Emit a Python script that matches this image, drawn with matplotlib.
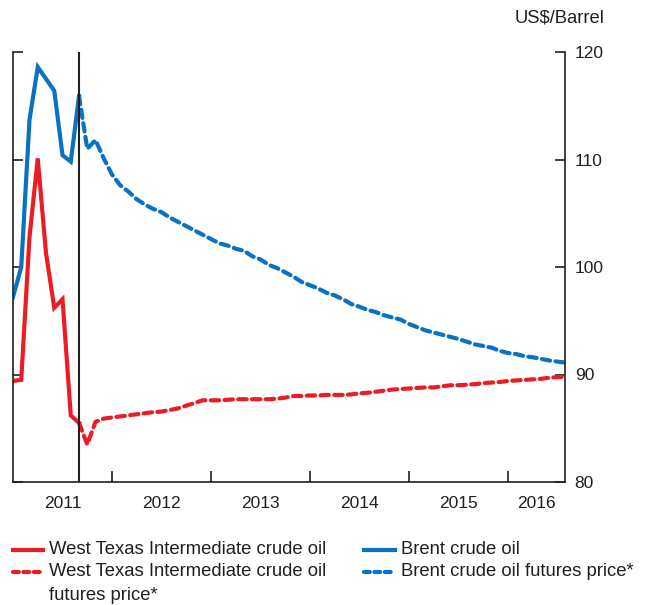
import matplotlib
matplotlib.use("Agg")
import matplotlib.pyplot as plt
import numpy as np
from matplotlib.lines import Line2D

plt.rcParams['font.family'] = ['Liberation Sans', 'DejaVu Sans']
plt.rcParams['font.size'] = 12.5

# Data (US$/barrel), monthly from Jan 2011; month index 0 = Jan 2011
years = ['2011', '2012', '2013', '2014', '2015', '2016']
wti = [89.4, 89.5, 102.8, 110.1, 101.3, 96.2, 97.0, 86.2, 85.5]
brent = [97.2, 100.0, 113.7, 118.6, 117.5, 116.4, 110.4, 109.8, 115.9]
# futures, monthly from Sep 2011 (month 8) to Aug 2016 (month 67)
wti_fut = [85.5, 83.5, 85.6, 85.9, 86.0, 86.1, 86.2, 86.3, 86.4, 86.5,
           86.55, 86.7, 86.85, 87.1, 87.35, 87.6, 87.6, 87.6, 87.65, 87.7,
           87.7, 87.7, 87.7, 87.7, 87.75, 87.85, 88.0, 88.0, 88.05, 88.05,
           88.1, 88.1, 88.1, 88.15, 88.25, 88.3, 88.4, 88.5, 88.6, 88.65,
           88.7, 88.75, 88.8, 88.8, 88.9, 89.0, 89.0, 89.05, 89.1, 89.2,
           89.25, 89.3, 89.4, 89.45, 89.5, 89.55, 89.6, 89.7, 89.75, 89.8]
brent_fut = [115.9, 111.0, 111.8, 110.1, 108.6, 107.6, 107.0, 106.3, 105.8, 105.4,
             105.1, 104.6, 104.2, 103.8, 103.4, 103.0, 102.6, 102.2, 102.0, 101.7,
             101.5, 101.0, 100.7, 100.2, 99.9, 99.5, 99.1, 98.6, 98.3, 98.0,
             97.6, 97.35, 97.0, 96.55, 96.3, 96.0, 95.8, 95.5, 95.3, 95.1,
             94.7, 94.4, 94.1, 93.9, 93.7, 93.5, 93.3, 93.05, 92.8, 92.65,
             92.5, 92.2, 92.0, 91.9, 91.7, 91.6, 91.45, 91.3, 91.2, 91.1]
fut_start = 8
x_end = 66.9

red = '#ED1C24'
blue = '#0A72C2'
ink = '#231f20'
lw = 3.0
dash = (2.0, 1.3)

fig = plt.figure(figsize=(6.47, 6.05), dpi=100)
ax = fig.add_axes([13/647, 1-482/605, (565-13)/647, (482-52)/605])

m_act = np.arange(len(wti))
m_fut = np.arange(fut_start, fut_start + len(wti_fut))

ax.plot(m_act, brent, color=blue, lw=lw, solid_joinstyle='miter')
ax.plot(m_act, wti, color=red, lw=lw, solid_joinstyle='miter')
ax.plot(m_fut, brent_fut, color=blue, lw=lw, dashes=dash, dash_capstyle='round')
ax.plot(m_fut, wti_fut, color=red, lw=lw, dashes=dash, dash_capstyle='round')
ax.axvline(fut_start, color=ink, lw=1.5)

ax.set_xlim(0, x_end)
ax.set_ylim(80, 120)

for s in ['left', 'right', 'bottom']:
    ax.spines[s].set_color(ink)
    ax.spines[s].set_linewidth(1.2)
ax.spines['top'].set_visible(False)

ax.set_yticks([80, 90, 100, 110, 120])
ax.yaxis.set_ticks_position('both')
ax.tick_params(axis='y', direction='in', length=7.5, width=1.2, color=ink,
               labelleft=False, labelright=True, pad=7, labelcolor=ink)

ax.set_xticks([12, 24, 36, 48, 60])
ax.set_xticklabels([])
ax.tick_params(axis='x', which='major', direction='in', length=8, width=1.2, color=ink)
mids = [6, 18, 30, 42, 54, (60 + x_end) / 2]
ax.set_xticks(mids, minor=True)
ax.set_xticklabels(years, minor=True)
ax.tick_params(axis='x', which='minor', length=0, pad=10, labelcolor=ink)

fig.text(605/647, 1-18/605, 'US$/Barrel', ha='right', va='center', color=ink, fontsize=13.3)

# legend drawn by hand
def leg_item(x0, x1, y, ls, color, label):
    yf = 1 - y/605
    kw = dict(dashes=(1.4, 1.1), dash_capstyle='round') if ls == 'dash' else {}
    fig.add_artist(Line2D([x0/647, x1/647], [yf, yf], color=color, lw=lw,
                          transform=fig.transFigure, **kw))
    fig.text((x1+6)/647, yf, label, ha='left', va='center', color=ink, fontsize=13.3)

leg_item(13, 43, 550, 'solid', red, 'West Texas Intermediate crude oil')
leg_item(13, 43, 572, 'dash', red, 'West Texas Intermediate crude oil')
fig.text(49/647, 1-596/605, 'futures price*', ha='left', va='center', color=ink, fontsize=13.3)
leg_item(364, 395, 550, 'solid', blue, 'Brent crude oil')
leg_item(364, 395, 572, 'dash', blue, 'Brent crude oil futures price*')

fig.savefig('out.png', dpi=100)
